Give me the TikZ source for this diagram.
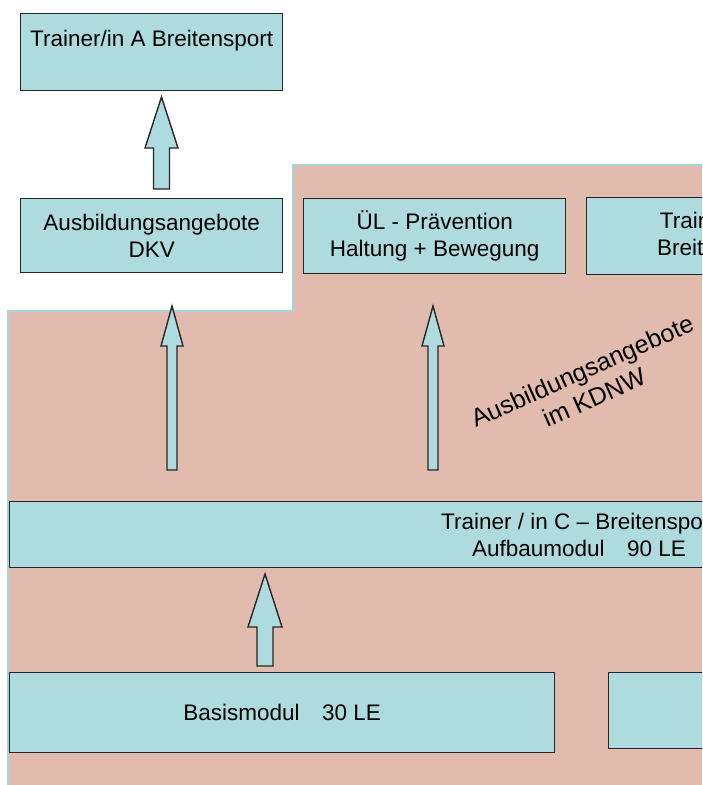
\documentclass[tikz,border=0pt]{standalone}
\usepackage{fontspec}
\setmainfont{Liberation Sans}
\definecolor{boxfill}{HTML}{AEDCDE}
\definecolor{pinkfill}{HTML}{E1BCAE}
\definecolor{edgecyan}{HTML}{A6D4D8}
\definecolor{darkline}{HTML}{262626}
\newcommand\fatup[7]{% name, x, ybottom, ytop, shaft half, head half, head length
  \coordinate (#1-base) at (#2,#3);
  \coordinate (#1-tip) at (#2,#4);
  \draw[fatarrow] (#2-#5,#3) -- (#2-#5,#4+#7) -- (#2-#6,#4+#7) -- (#1-tip)
    -- (#2+#6,#4+#7) -- (#2+#5,#4+#7) -- (#2+#5,#3) -- cycle;}
\begin{document}
\begin{tikzpicture}[x=1pt,y=-1pt,
  every node/.style={font=\fontsize{22.5}{27}\selectfont},
  box/.style={draw=darkline, fill=boxfill, line width=1.4pt, inner sep=0pt, align=center},
  fatarrow/.style={draw=darkline, fill=boxfill, line width=1.4pt, line join=miter},
  region/.style={fill=pinkfill, draw=edgecyan, line width=1.6pt}]
\useasboundingbox (0,0) rectangle (702,785);
\clip (0,0) rectangle (702,785);
% pink region
\draw[region] (8,311) -- (293,311) -- (293,165) -- (720,165) -- (720,800) -- (8,800) -- cycle;
% boxes
\node[box, minimum width=262pt, minimum height=77pt, anchor=north west] (tA) at (20,13)
  {Trainer/in A Breitensport\\~};
\node[box, minimum width=262pt, minimum height=74pt, anchor=north west] (dkv) at (20,198)
  {Ausbildungsangebote\\DKV};
\node[box, minimum width=262pt, minimum height=75pt, anchor=north west] (ul) at (303,198)
  {ÜL - Prävention\\Haltung + Bewegung};
\node[box, minimum width=262pt, minimum height=77pt, anchor=north west] (tB) at (586,197)
  {Trainer/in B\\Breitensport};
\node[box, minimum width=760pt, minimum height=66pt, anchor=north west] (tC) at (9,501) {};
\node[align=center] (tCtext) at (579,535) {Trainer / in C – Breitensport\\Aufbaumodul\quad 90 LE};
\node[box, minimum width=545pt, minimum height=80pt, anchor=north west] (basis) at (9,672)
  {Basismodul\quad 30 LE};
\node[box, minimum width=200pt, minimum height=76pt, anchor=north west] (right) at (608,672) {};
% rotated label
\node[align=center, rotate=24, font=\fontsize{25}{29}\selectfont] (kdnw) at (588,384)
  {Ausbildungsangebote\\im KDNW};
% arrows
\fatup{a1}{161.5}{189}{97}{8}{16.5}{51}
\fatup{a2}{172}{470}{306}{5}{11}{40}
\fatup{a3}{433}{470}{306}{5}{11}{40}
\fatup{a4}{265}{666}{574}{8}{17}{53}
\end{tikzpicture}
\end{document}
